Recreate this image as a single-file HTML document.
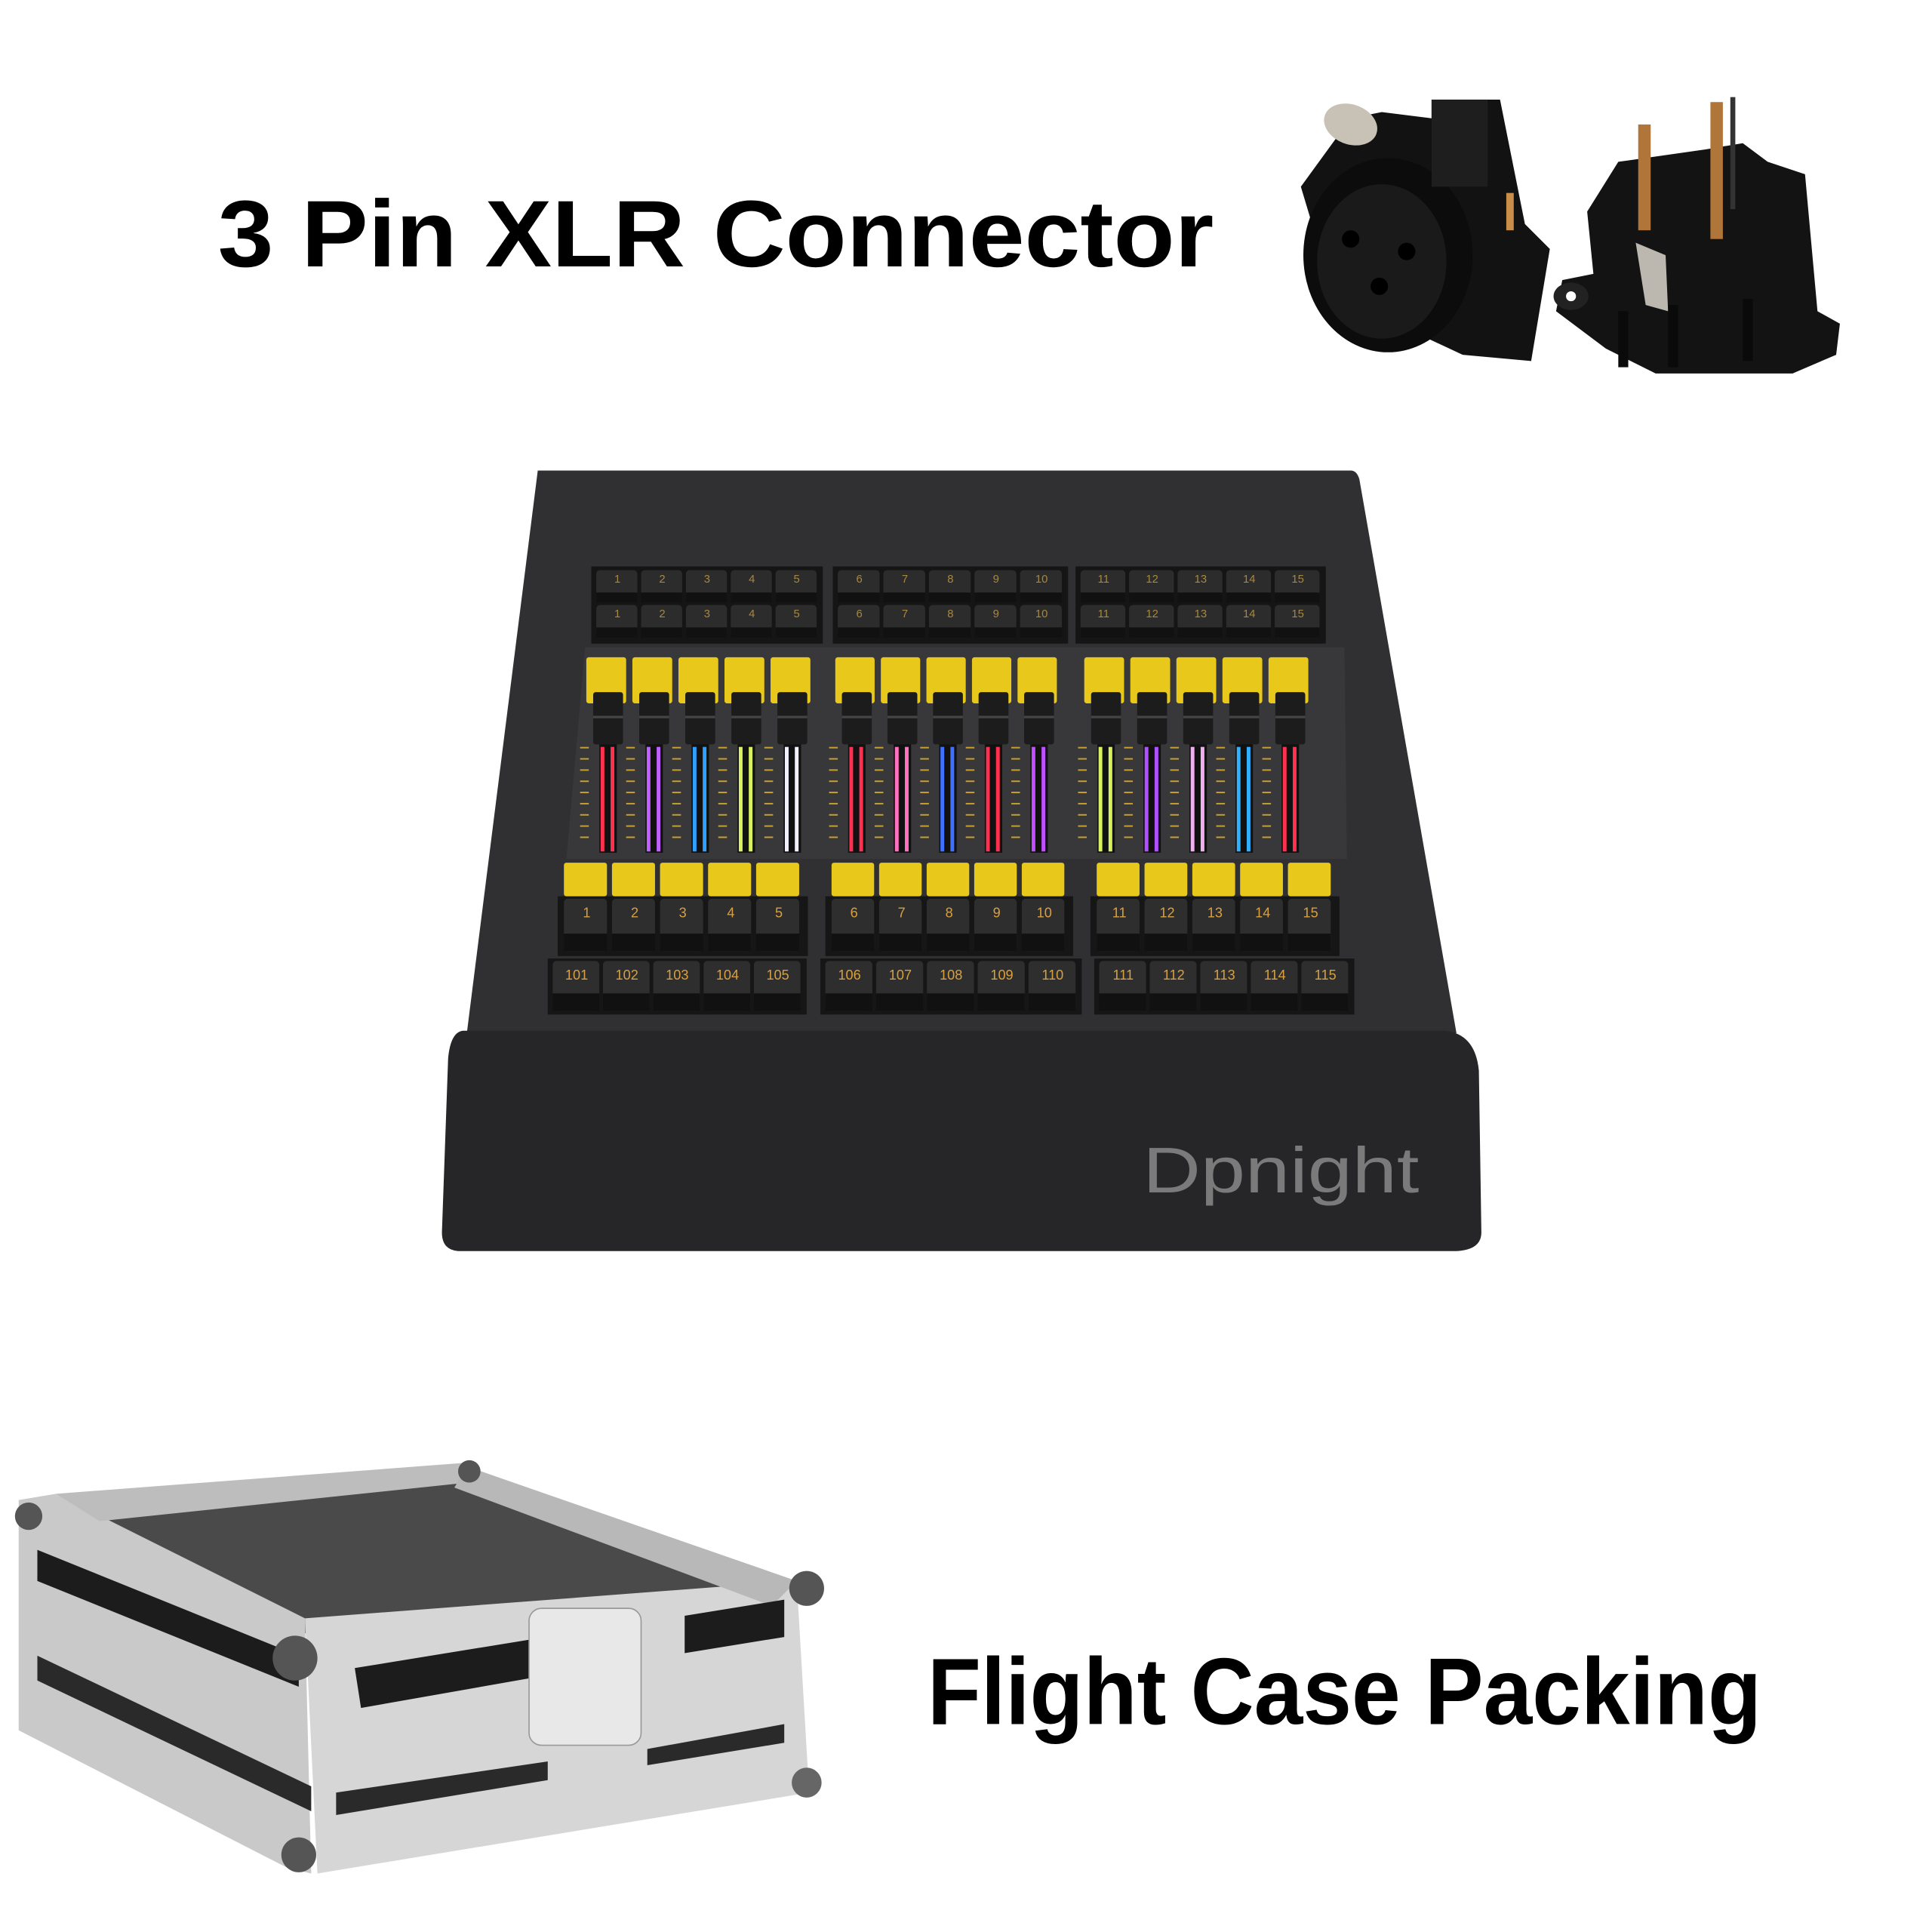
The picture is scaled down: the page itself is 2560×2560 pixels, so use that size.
<!DOCTYPE html>
<html><head><meta charset="utf-8"><style>
html,body{margin:0;padding:0;background:#fff;width:2560px;height:2560px;overflow:hidden}
svg{display:block}
</style></head><body>
<svg id="s" width="2560" height="2560" viewBox="0 0 1552 1552" xmlns="http://www.w3.org/2000/svg">
<rect width="1552" height="1552" fill="#fff"/>
<text x="175" y="214" font-family="Liberation Sans, Arial, sans-serif" font-weight="bold" font-size="76" textLength="800" lengthAdjust="spacingAndGlyphs" fill="#000">3 Pin XLR Connector</text>
<text x="745" y="1385" font-family="Liberation Sans, Arial, sans-serif" font-weight="bold" font-size="76" textLength="670" lengthAdjust="spacingAndGlyphs" fill="#000">Flight Case Packing</text>

<!-- XLR left (female) -->
<g>
<path d="M1085 95 L1110 90 L1150 95 L1150 80 L1205 80 L1225 180 L1245 200 L1230 290 L1175 285 L1100 250 L1060 200 L1045 150 Z" fill="#121212"/>
<ellipse cx="1115" cy="205" rx="68" ry="78" fill="#0c0c0c"/>
<ellipse cx="1110" cy="210" rx="52" ry="62" fill="#1a1a1a"/>
<circle cx="1085" cy="192" r="7" fill="#000"/><circle cx="1130" cy="202" r="7" fill="#000"/><circle cx="1108" cy="230" r="7" fill="#000"/>
<ellipse cx="1085" cy="100" rx="22" ry="16" fill="#c8c2b6" transform="rotate(20 1085 100)"/>
<rect x="1150" y="80" width="45" height="70" fill="#1e1e1e"/>
<rect x="1210" y="155" width="6" height="30" fill="#c98f4a"/>
</g>
<!-- XLR right (male) -->
<g>
<path d="M1275 170 L1300 130 L1370 120 L1400 115 L1420 130 L1450 140 L1460 250 L1478 260 L1475 285 L1440 300 L1330 300 L1290 280 L1250 250 L1255 225 L1280 220 Z" fill="#131313"/>
<ellipse cx="1262" cy="238" rx="14" ry="11" fill="#222"/>
<circle cx="1262" cy="238" r="4" fill="#fff"/>
<rect x="1316" y="100" width="10" height="85" fill="#b07538"/>
<rect x="1374" y="82" width="10" height="110" fill="#b07538"/>
<rect x="1390" y="78" width="4" height="90" fill="#333"/>
<path d="M1314 195 L1338 205 L1340 250 L1322 245 Z" fill="#bcb8b0"/>
<rect x="1300" y="250" width="8" height="45" fill="#0a0a0a"/><rect x="1340" y="245" width="8" height="50" fill="#0a0a0a"/><rect x="1400" y="240" width="8" height="50" fill="#0a0a0a"/>
</g>

<!-- Console -->
<path d="M432 378 L1085 378 Q1090 378 1092 385 L1170 830 L375 830 Z" fill="#303033"/>
<path d="M470 520 L1080 520 L1082 690 L455 690 Z" fill="#38383b"/>
<path d="M372 828 L1160 828 Q1185 830 1188 860 L1190 990 Q1190 1004 1170 1005 L368 1005 Q355 1004 355 990 L360 850 Q362 829 372 828 Z" fill="#262628"/>
<text x="918" y="958" font-family="Liberation Sans, DejaVu Sans, sans-serif" font-size="52" fill="#7a7a7a" textLength="222" lengthAdjust="spacingAndGlyphs">Dpnight</text>
<g id="keys"></g>
</svg>

<!-- flight case -->
<svg style="position:absolute;left:0;top:0" width="2560" height="2560" viewBox="0 0 1552 1552">
<path d="M45 1210 L375 1178 L640 1272 L245 1312 Z" fill="#4a4a4a"/>
<path d="M15 1205 L45 1200 L245 1300 L250 1505 L230 1500 L15 1390 Z" fill="#c9c9c9"/>
<path d="M245 1300 L640 1270 L650 1440 L255 1505 Z" fill="#d6d6d6"/>
<path d="M45 1200 L375 1175 L385 1190 L80 1222 Z" fill="#bdbdbd"/>
<path d="M375 1178 L640 1270 L620 1290 L365 1195 Z" fill="#b8b8b8"/>
<path d="M285 1340 L500 1305 L500 1335 L290 1372 Z" fill="#1c1c1c"/>
<path d="M550 1298 L630 1285 L630 1315 L550 1328 Z" fill="#1c1c1c"/>
<path d="M30 1245 L240 1330 L240 1355 L30 1270 Z" fill="#1c1c1c"/>
<path d="M30 1330 L250 1435 L250 1455 L30 1350 Z" fill="#2a2a2a"/>
<path d="M270 1440 L440 1415 L440 1430 L270 1458 Z" fill="#2a2a2a"/>
<path d="M520 1405 L630 1385 L630 1400 L520 1418 Z" fill="#2a2a2a"/>
<rect x="425" y="1292" width="90" height="110" rx="10" fill="#e8e8e8" stroke="#999"/>
<circle cx="237" cy="1332" r="18" fill="#555"/><circle cx="240" cy="1490" r="14" fill="#555"/>
<circle cx="648" cy="1276" r="14" fill="#555"/><circle cx="23" cy="1218" r="11" fill="#555"/>
<circle cx="377" cy="1182" r="9" fill="#555"/><circle cx="648" cy="1432" r="12" fill="#666"/>
</svg>

<script>
const g=document.getElementById('keys');const NS='http://www.w3.org/2000/svg';
function r(x,y,w,h,f,rx){const e=document.createElementNS(NS,'rect');e.setAttribute('x',x);e.setAttribute('y',y);e.setAttribute('width',w);e.setAttribute('height',h);e.setAttribute('fill',f);if(rx)e.setAttribute('rx',rx);g.appendChild(e);}
function t(x,y,s,size,c){const e=document.createElementNS(NS,'text');e.setAttribute('x',x);e.setAttribute('y',y);e.setAttribute('font-size',size);e.setAttribute('fill',c);e.setAttribute('text-anchor','middle');e.setAttribute('font-family','Liberation Sans, sans-serif');e.textContent=s;g.appendChild(e);}
// top rows
const topG=[[478,658],[672,855],[867,1062]];
topG.forEach((gr,gi)=>{r(gr[0]-3,455,gr[1]-gr[0]+6,62,'#151515');const w=(gr[1]-gr[0])/5;for(let k=0;k<5;k++){const n=gi*5+k+1;for(let row=0;row<2;row++){const y=458+row*28;r(gr[0]+k*w+1,y,w-3,26,'#2c2c2c',3);r(gr[0]+k*w+1,y+18,w-3,8,'#111');t(gr[0]+k*w+w/2,y+10,n,9,'#a8883e');}}});
// faders
const yG=[[470,655],[670,853],[870,1055]];
const cols=['#ff3050','#c060ff','#30a0ff','#d8f060','#f0f0ff','#ff3050','#ff70c0','#4070ff','#ff3050','#c050ff','#d8f060','#b050ff','#f0b0f0','#30b0ff','#ff3050'];
yG.forEach((gr,gi)=>{const w=(gr[1]-gr[0])/5;for(let k=0;k<5;k++){const x=gr[0]+k*w;const cx=x+w/2;r(x+1,528,w-5,37,'#e8c81a',2);
for(let s=0;s<9;s++){r(x-4,600+s*9,7,1.2,'#c8a030');}
const c=cols[gi*5+k];r(cx-7,597,14,88,'#111');r(cx-6,600,3,84,c);r(cx+2,600,3,84,c);
r(cx-12,556,24,42,'#1c1c1c',2);r(cx-12,575,24,2,'#444');}});
// lower yellow & keys
const lG=[[452,645],[667,858],[880,1072]];
lG.forEach((gr,gi)=>{r(gr[0]-4,720,gr[1]-gr[0]+8,48,'#161616');const w=(gr[1]-gr[0])/5;for(let k=0;k<5;k++){const x=gr[0]+k*w;r(x+1,693,w-4,27,'#e8c81a',2);r(x+1,722,w-4,42,'#2e2e2e',3);r(x+1,750,w-4,14,'#111');t(x+w/2,737,gi*5+k+1,11,'#d8a040');}});
const bG=[[443,645],[662,866],[882,1085]];
bG.forEach((gr,gi)=>{r(gr[0]-3,770,gr[1]-gr[0]+6,45,'#161616');const w=(gr[1]-gr[0])/5;for(let k=0;k<5;k++){const x=gr[0]+k*w;r(x+1,772,w-3,40,'#2e2e2e',3);r(x+1,798,w-3,14,'#111');t(x+w/2,787,101+gi*5+k,11,'#d8a040');}});
</script>
</body></html>
